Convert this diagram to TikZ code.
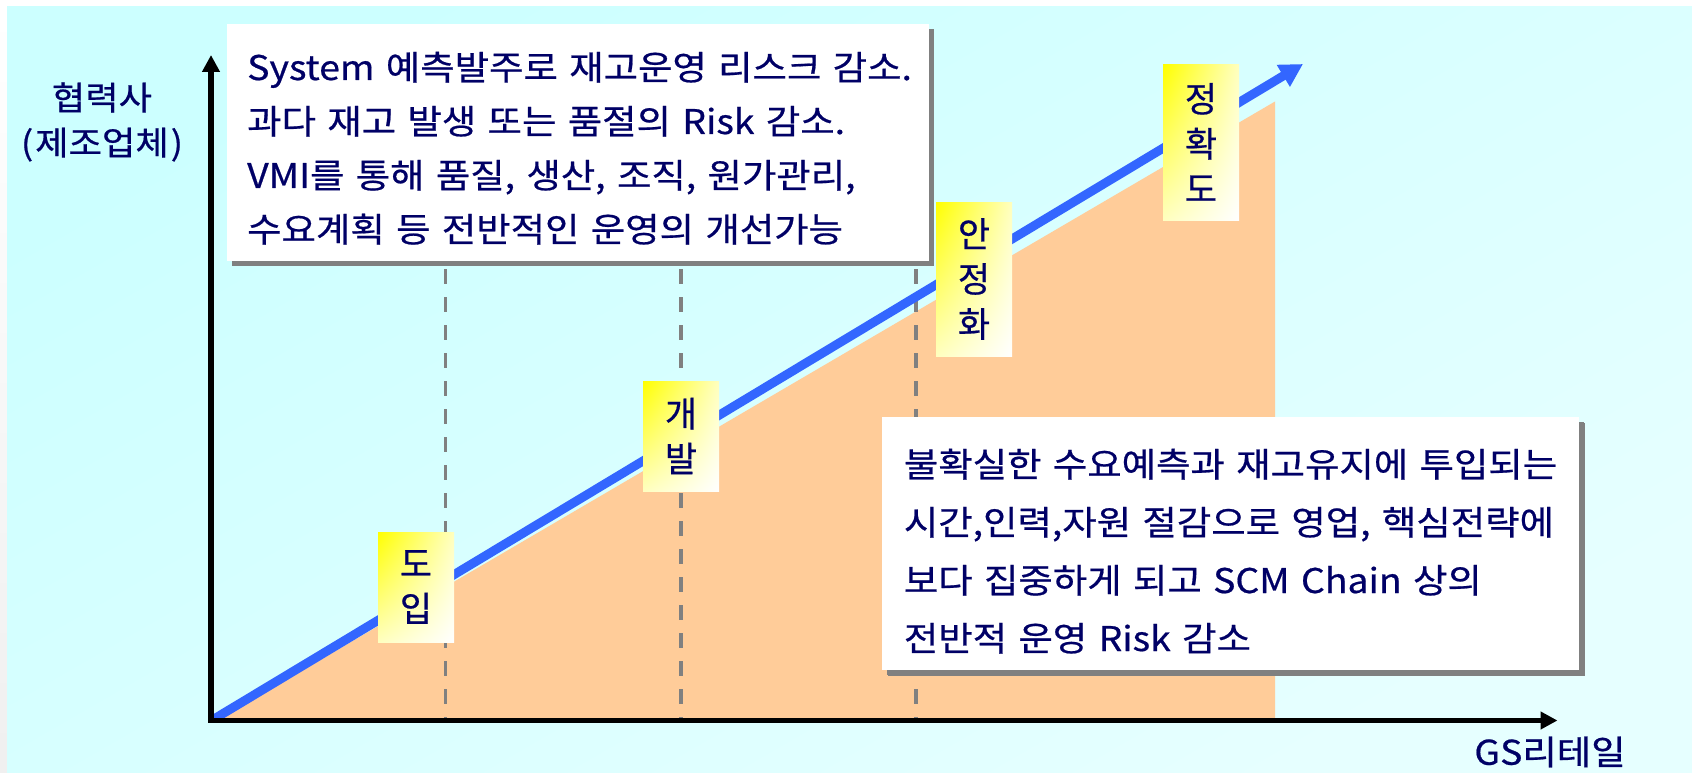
\documentclass[tikz,border=0pt]{standalone}
\usepackage{fontspec}
\setmainfont{Noto Sans CJK KR}[WordSpace=2, FakeStretch=1.1, FakeBold=0.6]
\newfontfamily\tagfont{Noto Sans CJK KR}[FakeBold=0.6]
\usetikzlibrary{arrows.meta,shadows,shadings}
\definecolor{navytext}{RGB}{0,0,102}
\definecolor{bgA}{RGB}{204,255,255}
\definecolor{bgB}{RGB}{230,255,255}
\definecolor{peach}{RGB}{255,204,153}
\definecolor{arrowblue}{RGB}{51,102,255}
\definecolor{guidegray}{RGB}{128,128,128}
\begin{document}
\begin{tikzpicture}[x=1pt,y=-1pt,
  bodytext/.style={text=navytext, inner sep=0pt, align=left, anchor=base west, text width=690pt},
  infobox/.style={fill=white, draw=none, anchor=north west, inner sep=0pt,
    drop shadow={shadow xshift=5pt, shadow yshift=-5pt, fill=guidegray, opacity=1}},
  tagbox/.style={shade, upper left=yellow, upper right=yellow!25!white, lower left=yellow!25!white,
    lower right=white, minimum width=76pt, inner sep=0pt, text=navytext,
    font=\tagfont\fontsize{35}{45}\selectfont, align=center},
  guide/.style={draw=guidegray, line width=3.5pt, dash pattern=on 15pt off 13pt},
  axisline/.style={line width=5.5pt, line join=miter, black},
  trend/.style={draw=arrowblue, line width=9pt, -{Triangle[length=23pt,width=24pt]}},
  axlabel/.style={text=navytext, inner sep=0pt, align=center, font=\fontsize{33}{45}\selectfont},
]
\useasboundingbox (0,0) rectangle (1692,773);
\fill[white] (0,0) rectangle (1692,773);
\shade[top color=white, bottom color=gray!12] (0,7) rectangle (7,773);
\shade[top color=bgA, bottom color=bgB, shading angle=30] (7,7) rectangle (1692,773);

% area under the trend
\fill[peach] (221,718) -- (1275,101.5) -- (1275,718) -- cycle;

% phase guides
\coordinate (g1t) at (445.5,269); \coordinate (g1b) at (445.5,720);
\coordinate (g2t) at (681,269);   \coordinate (g2b) at (681,720);
\coordinate (g3t) at (916,269);   \coordinate (g3b) at (916,720);
\draw[guide] (g1t) -- (g1b);
\draw[guide] (g2t) -- (g2b);
\draw[guide] (g3t) -- (g3b);

% trend arrow
\coordinate (bstart) at (214,719);
\coordinate (btip) at (1303,64);
\draw[trend] (bstart) -- (btip);

% axes
\coordinate (origin) at (211,720.5);
\coordinate (ytip) at (211,55);
\coordinate (xtip) at (1557.5,720.5);
\draw[axisline, {Triangle[length=17pt,width=17pt]}-{Triangle[length=17pt,width=17pt]}] (ytip) -- (origin) -- (xtip);

% axis labels
\node[axlabel] (ylab) at (102,122) {협력사\\(\kern2pt 제조업체\kern2pt)};
\node[axlabel, font=\fontsize{34}{40}\selectfont] (xlab) at (1550,752) {GS리테일};

% top info box
\node[infobox, minimum width=702pt, minimum height=237pt] (topbox) at (226.6,24) {};
\node[bodytext, font=\fontsize{34}{54}\selectfont] (toptext) at (247,80)
  {System 예측발주로 재고운영 리스크 감소.\\
   과다 재고 발생 또는 품절의 Risk 감소.\\
   VMI를 통해 품질, 생산, 조직, 원가관리,\\
   수요계획 등 전반적인 운영의 개선가능};

% bottom info box
\node[infobox, minimum width=697pt, minimum height=253pt,
  drop shadow={shadow xshift=6pt, shadow yshift=-6pt, fill=guidegray, opacity=1}] (botbox) at (882,416.7) {};
\node[bodytext, font=\fontsize{34}{58}\selectfont] (bottext) at (903.7,477)
  {불확실한 수요예측과 재고유지에 투입되는\\
   시간,인력,자원 절감으로 영업, 핵심전략에\\
   보다 집중하게 되고 SCM Chain 상의\\
   전반적 운영 Risk 감소};

% phase tags
\node[tagbox, minimum height=110pt] (tag1) at (416,587) {도\\입};
\node[tagbox, minimum height=110pt] (tag2) at (681,436) {개\\발};
\node[tagbox, minimum height=154pt] (tag3) at (974,279) {안\\정\\화};
\node[tagbox, minimum height=155pt] (tag4) at (1201,142.5) {정\\확\\도};
\end{tikzpicture}
\end{document}
